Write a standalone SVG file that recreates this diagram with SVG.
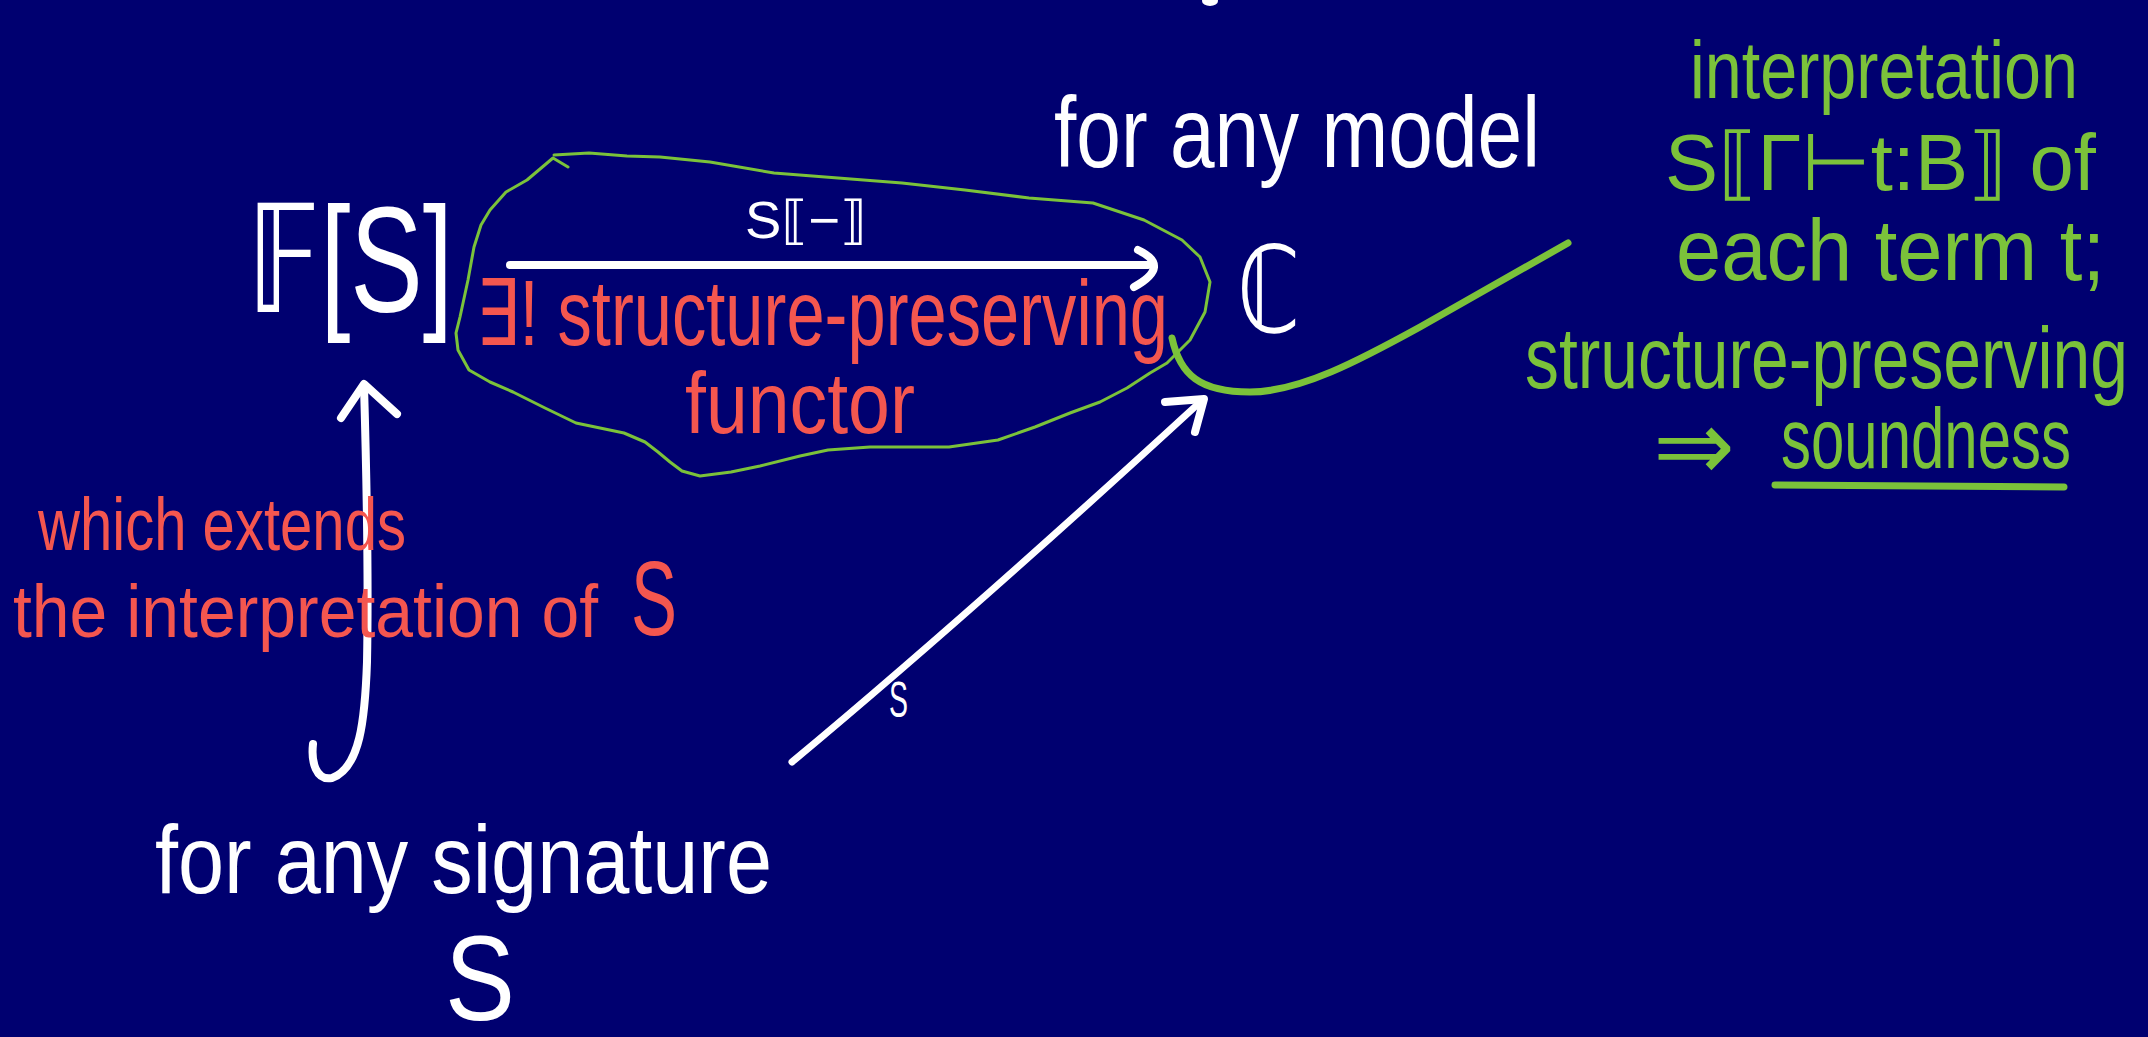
<svg xmlns="http://www.w3.org/2000/svg" width="2148" height="1037" viewBox="0 0 2148 1037">
<style>
  .t { font-family: "Liberation Sans", "DejaVu Sans", sans-serif; }
  .w { fill: #ffffff; }
  .r { fill: #f4564f; }
  .g { fill: #7bc23a; }
  .ln { fill: none; stroke-linecap: round; stroke-linejoin: round; }
  .lw { stroke: #ffffff; stroke-width: 8; }
  .lg { stroke: #7bc23a; }
</style>
<rect x="0" y="0" width="2148" height="1037" fill="#000070"/>
<ellipse cx="1210" cy="1" rx="8" ry="5" fill="#ffffff"/>

<g id="connectors">
  <g id="arrow-interp">
    <path class="ln lw" d="M510,265 L1148,265"/>
    <path class="ln lw" d="M1138,250 Q1172,266 1134,287"/>
  </g>
  <g id="arrow-signature">
    <path class="ln lw" d="M364,386 C366,455 369,560 367,662 C365,720 360,768 332,778 C316,781 311,762 313,744"/>
    <path class="ln lw" d="M341,418 L364,384 L397,414"/>
  </g>
  <g id="arrow-model">
    <path class="ln lw" d="M792,762 C900,672 1050,540 1198,404" style="stroke-width:7"/>
    <path class="ln lw" d="M1165,402 L1204,399 L1195,432"/>
  </g>
  <g id="blob">
    <path class="ln lg" style="stroke-width:3" d="M568,167 L553,158 L527,180 L506,192 L490,210 L481,225 L474,247 L468,280 L460,317 L456,333 L458,350 L469,370 L490,382 L513,392 L545,408 L576,423 L600,428 L624,433 L645,442 L658,452 L670,462 L682,471 L700,476 L731,472 L760,466 L800,456 L828,450 L870,447 L900,447 L949,447 L998,440 L1035,427 L1070,413 L1100,402 L1127,388 L1150,373 L1167,363 L1190,340 L1205,312 L1210,282 L1200,257 L1182,240 L1144,220 L1093,203 L1029,198 L965,190 L902,183 L838,178 L774,173 L710,162 L660,157 L627,156 L589,153 L554,155"/>
  </g>
  <g id="pointer">
    <path class="ln lg" style="stroke-width:7" d="M1172,338 C1180,375 1200,392 1250,392 C1300,392 1360,360 1420,327 L1568,243"/>
  </g>
</g>

<g id="node-FS">
  <text class="t w" x="247" y="312" font-size="150" textLength="206" lengthAdjust="spacingAndGlyphs">𝔽[S]</text>
</g>
<g id="node-C">
  <text class="t w" x="1237" y="332" font-size="120" textLength="63" lengthAdjust="spacingAndGlyphs">ℂ</text>
</g>
<g id="node-S">
  <text class="t w" x="155" y="893" font-size="96" textLength="617" lengthAdjust="spacingAndGlyphs">for any signature</text>
  <text class="t w" x="445" y="1020" font-size="120" textLength="70" lengthAdjust="spacingAndGlyphs">S</text>
</g>
<g id="label-model">
  <text class="t w" x="1054" y="167" font-size="100" textLength="486" lengthAdjust="spacingAndGlyphs">for any model</text>
</g>
<g id="label-arrow">
  <text class="t w" x="745" y="238" font-size="52" textLength="122" lengthAdjust="spacingAndGlyphs">S⟦−⟧</text>
  <text class="t w" x="889" y="717" font-size="50" textLength="19" lengthAdjust="spacingAndGlyphs">S</text>
</g>
<g id="label-functor">
  <text class="t r" x="476" y="345" font-size="92" textLength="692" lengthAdjust="spacingAndGlyphs">∃! structure-preserving</text>
  <text class="t r" x="685" y="433" font-size="88" textLength="230" lengthAdjust="spacingAndGlyphs">functor</text>
</g>
<g id="label-extends">
  <text class="t r" x="38" y="550" font-size="74" textLength="368" lengthAdjust="spacingAndGlyphs">which extends</text>
  <text class="t r" x="13" y="637" font-size="74" textLength="585" lengthAdjust="spacingAndGlyphs">the interpretation of</text>
  <text class="t r" x="631" y="635" font-size="106" textLength="46" lengthAdjust="spacingAndGlyphs">S</text>
</g>
<g id="note-soundness">
  <text class="t g" x="1690" y="98" font-size="82" textLength="388" lengthAdjust="spacingAndGlyphs">interpretation</text>
  <text class="t g" x="1665" y="190" font-size="80" textLength="431" lengthAdjust="spacingAndGlyphs">S⟦Γ⊢t:B⟧ of</text>
  <text class="t g" x="1676" y="280" font-size="88" textLength="429" lengthAdjust="spacingAndGlyphs">each term t;</text>
  <text class="t g" x="1525" y="388" font-size="88" textLength="603" lengthAdjust="spacingAndGlyphs">structure-preserving</text>
  <text class="t g" x="1653" y="480" font-size="100" textLength="82" lengthAdjust="spacingAndGlyphs">⇒</text>
  <text class="t g" x="1781" y="468" font-size="86" textLength="290" lengthAdjust="spacingAndGlyphs">soundness</text>
  <path class="ln lg" style="stroke-width:7" d="M1775,485 L2064,487"/>
</g>
</svg>
